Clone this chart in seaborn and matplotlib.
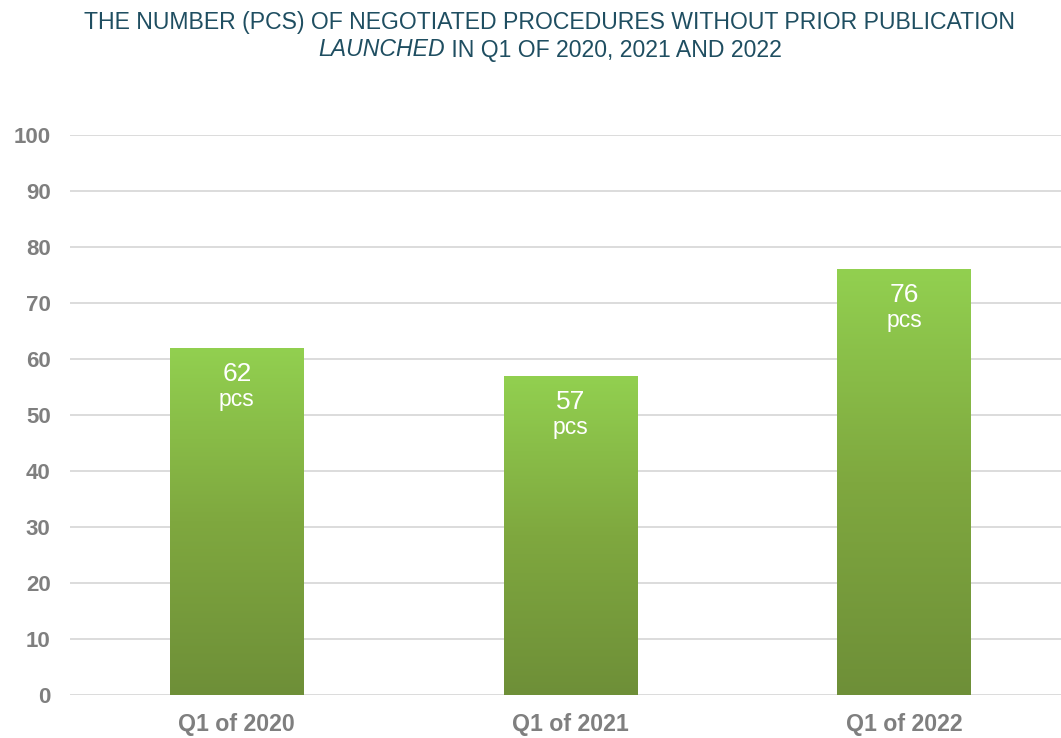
import numpy as np
import pandas as pd
import matplotlib
matplotlib.use("Agg")
import matplotlib.pyplot as plt
from matplotlib.colors import LinearSegmentedColormap
import seaborn as sns

# data
periods = ["Q1 of 2020", "Q1 of 2021", "Q1 of 2022"]
counts = [62, 57, 76]
unit = "pcs"

df = pd.DataFrame({"period": periods, "count": counts})

sns.set_theme(style="white")
plt.rcParams["font.family"] = ["Liberation Sans", "DejaVu Sans"]

fig = plt.figure(figsize=(10.61, 7.38), dpi=100)
ax = fig.add_axes([0.066, 0.0583, 0.934, 0.7588])

sns.barplot(data=df, x="period", y="count", width=0.4, color="#92D050", ax=ax)

ax.set_ylim(0, 100)
ax.set_xlim(-0.5, 2.47)
ax.set_yticks(range(0, 101, 10))
ax.yaxis.grid(True, color="#D9D9D9", linewidth=1.3)
ax.set_axisbelow(True)
for s in ax.spines.values():
    s.set_visible(False)
ax.set_xlabel("")
ax.set_ylabel("")
ax.tick_params(axis="y", length=0, pad=14, labelsize=16, labelcolor="#7F7F7F")
ax.tick_params(axis="x", length=0, pad=13, labelsize=16.7, labelcolor="#7F7F7F")
for lab in ax.get_yticklabels() + ax.get_xticklabels():
    lab.set_fontweight("bold")

# gradient fill on bars
cmap = LinearSegmentedColormap.from_list("g", ["#6E8F38", "#7FA83F", "#92D050"])
grad = np.linspace(0, 1, 256).reshape(-1, 1)
for patch in ax.patches:
    x0, y0 = patch.get_x(), patch.get_y()
    w, h = patch.get_width(), patch.get_height()
    im = ax.imshow(grad, cmap=cmap, aspect="auto", origin="lower",
                   extent=[x0, x0 + w, y0, y0 + h], zorder=patch.get_zorder() + 0.1)
    im.set_clip_path(patch)
    patch.set_edgecolor("none")

# value labels
for i, v in enumerate(counts):
    ax.text(i, v - 4.6, str(v), ha="center", va="center", color="white", fontsize=19, zorder=5)
    ax.text(i, v - 9.2, unit, ha="center", va="center", color="white", fontsize=16.5, zorder=5)

# title with italic word
title_color = "#1F4E61"
fs = 16.6
cx = 550 / 1061
fig.text(cx, 1 - 22 / 738, "THE NUMBER (PCS) OF NEGOTIATED PROCEDURES WITHOUT PRIOR PUBLICATION",
         ha="center", va="center", fontsize=fs, color=title_color)
renderer = fig.canvas.get_renderer()
t1 = fig.text(0, 1 - 50 / 738, "LAUNCHED", ha="left", va="center", fontsize=fs,
              color=title_color, style="italic")
t2 = fig.text(0, 1 - 50 / 738, " IN Q1 OF 2020, 2021 AND 2022", ha="left", va="center",
              fontsize=fs, color=title_color)
w1 = t1.get_window_extent(renderer).width
w2 = t2.get_window_extent(renderer).width
figw = fig.get_figwidth() * fig.dpi
start = cx * figw - (w1 + w2) / 2
t1.set_x(start / figw)
t2.set_x((start + w1) / figw)

fig.savefig("out.png", dpi=100)
